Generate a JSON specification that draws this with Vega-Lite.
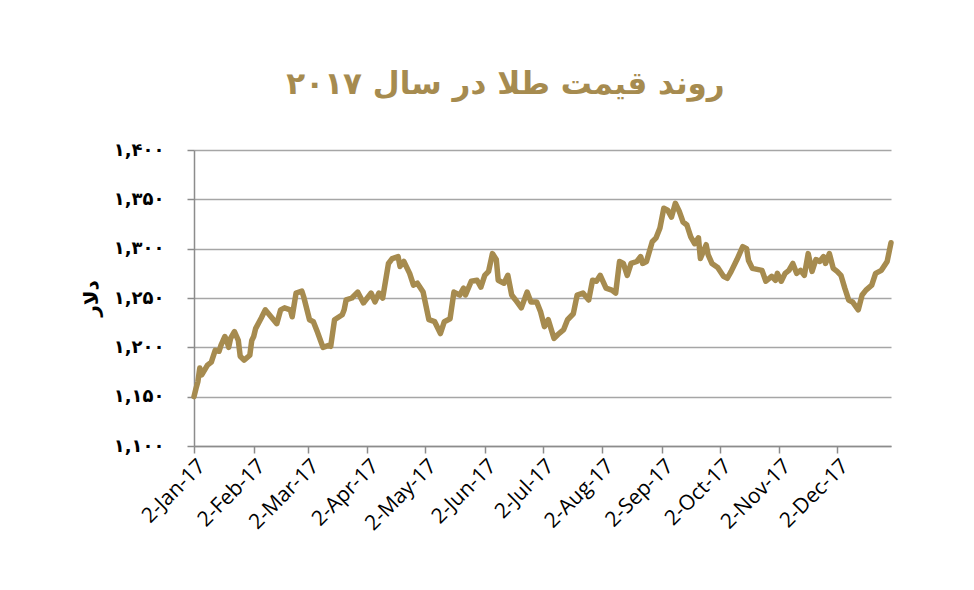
{
  "$schema": "https://vega.github.io/schema/vega-lite/v6.json",
  "width": 697,
  "height": 296,
  "autosize": {"type": "none"},
  "padding": {"left": 194, "top": 150, "right": 83, "bottom": 144},
  "background": "white",
  "title": {"text": "روند قیمت طلا در سال ۲۰۱۷", "font": "DejaVu Sans", "fontSize": 31, "fontWeight": "bold", "color": "#A68B4F", "anchor": "middle", "frame": "group", "dx": -37, "offset": 40},
  "config": {
    "view": {"stroke": null},
    "locale": {"number": {"decimal": ".", "thousands": ",", "grouping": [3], "currency": ["$", ""], "numerals": ["۰","۱","۲","۳","۴","۵","۶","۷","۸","۹"]}}
  },
  "data": {"values": [
    {"date":"2017-01-02","price":1150},{"date":"2017-01-03","price":1158},{"date":"2017-01-04","price":1165},{"date":"2017-01-05","price":1179},{"date":"2017-01-06","price":1172},{"date":"2017-01-09","price":1182},{"date":"2017-01-11","price":1185},{"date":"2017-01-13","price":1197},{"date":"2017-01-15","price":1196},{"date":"2017-01-16","price":1202},{"date":"2017-01-18","price":1211},{"date":"2017-01-19","price":1207},{"date":"2017-01-20","price":1200},{"date":"2017-01-21","price":1209},{"date":"2017-01-23","price":1216},{"date":"2017-01-25","price":1207},{"date":"2017-01-26","price":1191},{"date":"2017-01-28","price":1187},{"date":"2017-01-31","price":1192},
    {"date":"2017-02-01","price":1207},{"date":"2017-02-02","price":1211},{"date":"2017-02-03","price":1219},{"date":"2017-02-06","price":1230},{"date":"2017-02-08","price":1238},{"date":"2017-02-11","price":1231},{"date":"2017-02-14","price":1224},{"date":"2017-02-16","price":1238},{"date":"2017-02-18","price":1240},{"date":"2017-02-21","price":1238},{"date":"2017-02-22","price":1231},{"date":"2017-02-24","price":1255},{"date":"2017-02-27","price":1257},{"date":"2017-02-28","price":1251},
    {"date":"2017-03-03","price":1228},{"date":"2017-03-05","price":1226},{"date":"2017-03-07","price":1216},{"date":"2017-03-10","price":1200},{"date":"2017-03-13","price":1202},{"date":"2017-03-14","price":1201},{"date":"2017-03-16","price":1228},{"date":"2017-03-20","price":1233},{"date":"2017-03-21","price":1238},{"date":"2017-03-22","price":1248},{"date":"2017-03-25","price":1250},{"date":"2017-03-28","price":1256},{"date":"2017-03-31","price":1245},
    {"date":"2017-04-02","price":1250},{"date":"2017-04-04","price":1255},{"date":"2017-04-06","price":1246},{"date":"2017-04-08","price":1255},{"date":"2017-04-10","price":1250},{"date":"2017-04-13","price":1285},{"date":"2017-04-15","price":1290},{"date":"2017-04-18","price":1292},{"date":"2017-04-19","price":1282},{"date":"2017-04-21","price":1287},{"date":"2017-04-24","price":1275},{"date":"2017-04-26","price":1263},{"date":"2017-04-28","price":1265},
    {"date":"2017-05-01","price":1256},{"date":"2017-05-04","price":1228},{"date":"2017-05-07","price":1226},{"date":"2017-05-10","price":1214},{"date":"2017-05-12","price":1226},{"date":"2017-05-15","price":1229},{"date":"2017-05-17","price":1256},{"date":"2017-05-20","price":1253},{"date":"2017-05-22","price":1260},{"date":"2017-05-23","price":1253},{"date":"2017-05-26","price":1267},{"date":"2017-05-29","price":1268},{"date":"2017-05-31","price":1261},
    {"date":"2017-06-02","price":1273},{"date":"2017-06-04","price":1277},{"date":"2017-06-06","price":1295},{"date":"2017-06-08","price":1289},{"date":"2017-06-09","price":1268},{"date":"2017-06-12","price":1265},{"date":"2017-06-14","price":1273},{"date":"2017-06-16","price":1253},{"date":"2017-06-18","price":1248},{"date":"2017-06-21","price":1240},{"date":"2017-06-24","price":1256},{"date":"2017-06-26","price":1246},{"date":"2017-06-29","price":1246},
    {"date":"2017-07-01","price":1236},{"date":"2017-07-03","price":1221},{"date":"2017-07-05","price":1228},{"date":"2017-07-08","price":1209},{"date":"2017-07-10","price":1213},{"date":"2017-07-13","price":1218},{"date":"2017-07-15","price":1228},{"date":"2017-07-18","price":1234},{"date":"2017-07-20","price":1253},{"date":"2017-07-23","price":1255},{"date":"2017-07-26","price":1248},{"date":"2017-07-28","price":1268},{"date":"2017-07-30","price":1267},
    {"date":"2017-08-01","price":1273},{"date":"2017-08-04","price":1260},{"date":"2017-08-07","price":1258},{"date":"2017-08-09","price":1255},{"date":"2017-08-11","price":1287},{"date":"2017-08-13","price":1285},{"date":"2017-08-15","price":1273},{"date":"2017-08-17","price":1285},{"date":"2017-08-20","price":1287},{"date":"2017-08-22","price":1292},{"date":"2017-08-23","price":1285},{"date":"2017-08-25","price":1287},{"date":"2017-08-28","price":1307},{"date":"2017-08-30","price":1311},
    {"date":"2017-09-01","price":1321},{"date":"2017-09-03","price":1341},{"date":"2017-09-05","price":1339},{"date":"2017-09-07","price":1332},{"date":"2017-09-09","price":1346},{"date":"2017-09-11","price":1338},{"date":"2017-09-13","price":1327},{"date":"2017-09-15","price":1324},{"date":"2017-09-17","price":1312},{"date":"2017-09-19","price":1305},{"date":"2017-09-21","price":1311},{"date":"2017-09-22","price":1290},{"date":"2017-09-25","price":1304},{"date":"2017-09-26","price":1294},{"date":"2017-09-28","price":1285},
    {"date":"2017-10-01","price":1281},{"date":"2017-10-04","price":1272},{"date":"2017-10-06","price":1270},{"date":"2017-10-08","price":1277},{"date":"2017-10-11","price":1289},{"date":"2017-10-14","price":1302},{"date":"2017-10-15","price":1301},{"date":"2017-10-16","price":1300},{"date":"2017-10-17","price":1288},{"date":"2017-10-19","price":1280},{"date":"2017-10-24","price":1278},{"date":"2017-10-26","price":1267},{"date":"2017-10-29","price":1272},{"date":"2017-10-31","price":1268},
    {"date":"2017-11-01","price":1275},{"date":"2017-11-03","price":1267},{"date":"2017-11-05","price":1275},{"date":"2017-11-07","price":1278},{"date":"2017-11-09","price":1285},{"date":"2017-11-11","price":1275},{"date":"2017-11-13","price":1278},{"date":"2017-11-15","price":1273},{"date":"2017-11-17","price":1295},{"date":"2017-11-19","price":1277},{"date":"2017-11-21","price":1289},{"date":"2017-11-23","price":1287},{"date":"2017-11-25","price":1292},{"date":"2017-11-26","price":1285},{"date":"2017-11-28","price":1295},{"date":"2017-11-30","price":1280},
    {"date":"2017-12-02","price":1277},{"date":"2017-12-04","price":1273},{"date":"2017-12-06","price":1260},{"date":"2017-12-08","price":1248},{"date":"2017-12-10","price":1246},{"date":"2017-12-13","price":1238},{"date":"2017-12-15","price":1253},{"date":"2017-12-17","price":1258},{"date":"2017-12-20","price":1263},{"date":"2017-12-22","price":1275},{"date":"2017-12-25","price":1278},{"date":"2017-12-28","price":1287},{"date":"2017-12-30","price":1306}
  ]},
  "mark": {"type": "line", "color": "#A68B4F", "strokeWidth": 5.5, "strokeJoin": "round", "strokeCap": "round"},
  "encoding": {
    "x": {
      "field": "date", "type": "temporal",
      "scale": {"type": "utc", "domain": [{"year": 2017, "month": 1, "date": 2, "utc": true}, {"year": 2017, "month": 12, "date": 30, "utc": true}]},
      "axis": {
        "title": null, "grid": false,
        "values": [
          {"year": 2017, "month": 1, "date": 2, "utc": true}, {"year": 2017, "month": 2, "date": 2, "utc": true}, {"year": 2017, "month": 3, "date": 2, "utc": true},
          {"year": 2017, "month": 4, "date": 2, "utc": true}, {"year": 2017, "month": 5, "date": 2, "utc": true}, {"year": 2017, "month": 6, "date": 2, "utc": true},
          {"year": 2017, "month": 7, "date": 2, "utc": true}, {"year": 2017, "month": 8, "date": 2, "utc": true}, {"year": 2017, "month": 9, "date": 2, "utc": true},
          {"year": 2017, "month": 10, "date": 2, "utc": true}, {"year": 2017, "month": 11, "date": 2, "utc": true}, {"year": 2017, "month": 12, "date": 2, "utc": true}
        ],
        "format": "%-d-%b-%y",
        "labelAngle": -45, "labelFont": "Open Sans", "labelFontSize": 21, "labelColor": "black",
        "labelOverlap": false, "labelFlush": false, "labelBound": false, "labelPadding": 2,
        "tickSize": 7, "tickColor": "#8C8C8C", "tickWidth": 1.5,
        "domainColor": "#8C8C8C", "domainWidth": 1.5
      }
    },
    "y": {
      "field": "price", "type": "quantitative",
      "scale": {"domain": [1100, 1400], "zero": false, "nice": false},
      "axis": {
        "title": "دلار", "titleFont": "DejaVu Sans", "titleFontSize": 20, "titleFontWeight": "bold", "titleColor": "black", "titlePadding": 12,
        "values": [1100, 1150, 1200, 1250, 1300, 1350, 1400],
        "format": ",d",
        "labelFont": "DejaVu Sans", "labelFontWeight": "bold", "labelFontSize": 18, "labelColor": "black", "labelPadding": 23,
        "tickSize": 7, "tickColor": "#8C8C8C", "tickWidth": 1.5,
        "domainColor": "#8C8C8C", "domainWidth": 1.5,
        "gridColor": "#A6A6A6", "gridWidth": 1.5
      }
    }
  }
}
